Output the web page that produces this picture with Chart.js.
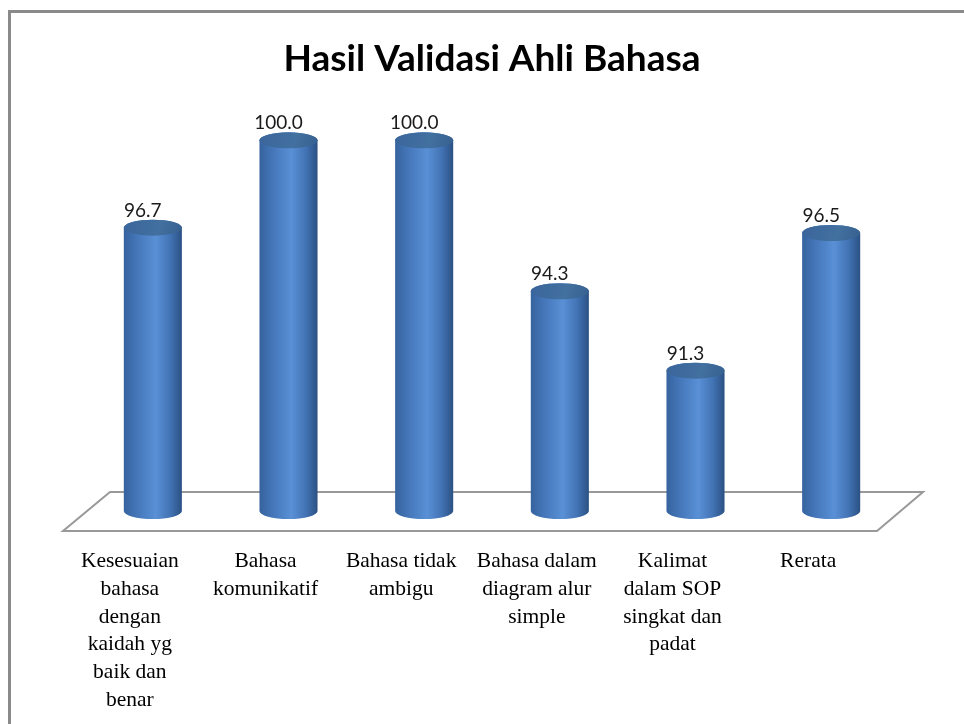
<!DOCTYPE html>
<html>
<head>
<meta charset="utf-8">
<script src="https://cdn.jsdelivr.net/npm/chart.js@4.4.1/dist/chart.umd.min.js"></script>
<style>
  html, body { margin: 0; padding: 0; background: #fff; }
  #wrap { width: 964px; height: 724px; }
</style>
</head>
<body>
<div id="wrap"><canvas id="grafico" width="964" height="724"></canvas></div>
<script>
// Data kategori (label sumbu X, dipecah per baris seperti aslinya)
const kategori = [
    ['Kesesuaian', 'bahasa', 'dengan', 'kaidah yg', 'baik dan', 'benar'],
    ['Bahasa', 'komunikatif'],
    ['Bahasa tidak', 'ambigu'],
    ['Bahasa dalam', 'diagram alur', 'simple'],
    ['Kalimat', 'dalam SOP', 'singkat dan', 'padat'],
    ['Rerata']
];

// Nilai tiap kategori (%)
const nilai = [96.7, 100.0, 100.0, 94.3, 91.3, 96.5];

const judul = 'Hasil Validasi Ahli Bahasa';

// Batas sumbu Y (tidak ditampilkan)
const yMin = 86;
const yMax = 102;

// gambar bingkai luar dan lantai 3D
const latarPlugin = {
    id: 'latar',
    beforeDraw(chart) {
        const ctx = chart.ctx;
        ctx.save();
        ctx.strokeStyle = '#8a8a8a';
        ctx.lineWidth = 3;
        ctx.beginPath();
        ctx.moveTo(9.5, chart.height);
        ctx.lineTo(9.5, 11.5);
        ctx.lineTo(chart.width, 11.5);
        ctx.stroke();
        ctx.restore();
    },
    beforeDatasetsDraw(chart) {
        const ctx = chart.ctx;
        const a = chart.chartArea;
        const base = a.bottom;
        ctx.save();
        ctx.fillStyle = '#ffffff';
        ctx.strokeStyle = '#999999';
        ctx.lineWidth = 2;
        ctx.beginPath();
        ctx.moveTo(a.left + 25, base - 19);
        ctx.lineTo(a.right + 24, base - 19);
        ctx.lineTo(a.right - 22, base + 20);
        ctx.lineTo(a.left - 22, base + 20);
        ctx.closePath();
        ctx.fill();
        ctx.stroke();
        ctx.restore();
    }
};

// gambar batang sebagai silinder
function silinder(ctx, x, top, base, w) {
    const rx = w / 2;
    const ry = 8;
    const g = ctx.createLinearGradient(x - rx, 0, x + rx, 0);
    g.addColorStop(0, '#35639e');
    g.addColorStop(0.25, '#4678bb');
    g.addColorStop(0.55, '#5990d6');
    g.addColorStop(0.8, '#4273b4');
    g.addColorStop(1, '#2b5183');

    ctx.beginPath();
    ctx.moveTo(x - rx, top);
    ctx.lineTo(x - rx, base);
    ctx.ellipse(x, base, rx, ry, 0, Math.PI, 0, true);
    ctx.lineTo(x + rx, top);
    ctx.ellipse(x, top, rx, ry, 0, 0, Math.PI, true);
    ctx.closePath();
    ctx.fillStyle = g;
    ctx.fill();

    // tutup atas
    const gt = ctx.createLinearGradient(x - rx, top - ry, x + rx, top + ry);
    gt.addColorStop(0, '#3a659c');
    gt.addColorStop(0.6, '#42709f');
    gt.addColorStop(1, '#36608f');
    ctx.beginPath();
    ctx.ellipse(x, top, rx, ry, 0, 0, Math.PI * 2);
    ctx.fillStyle = gt;
    ctx.fill();
}

const silinderPlugin = {
    id: 'silinder',
    afterDatasetsDraw(chart) {
        const ctx = chart.ctx;
        const meta = chart.getDatasetMeta(0);
        const dasar = chart.chartArea.bottom;
        ctx.save();
        meta.data.forEach((bar) => {
            silinder(ctx, bar.x, bar.y, Math.min(bar.base, dasar), bar.width);
        });
        // label nilai
        ctx.fillStyle = '#1a1a1a';
        ctx.font = '19px Lato';
        ctx.textAlign = 'center';
        ctx.textBaseline = 'alphabetic';
        meta.data.forEach((bar, i) => {
            ctx.fillText(nilai[i].toFixed(1), bar.x - 10, bar.y - 11);
        });
        ctx.restore();
    }
};

const ctx = document.getElementById('grafico').getContext('2d');
new Chart(ctx, {
    type: 'bar',
    data: {
        labels: kategori,
        datasets: [{
            data: nilai,
            base: yMin,
            backgroundColor: 'rgba(0,0,0,0)',
            borderWidth: 0,
            barPercentage: 0.428,
            categoryPercentage: 1
        }]
    },
    options: {
        responsive: false,
        animation: false,
        layout: {
            padding: { left: 85, right: 65, top: 0, bottom: 0 }
        },
        plugins: {
            legend: { display: false },
            tooltip: { enabled: false },
            title: {
                display: true,
                text: judul,
                color: '#000',
                font: { family: 'Lato', size: 37, weight: 'bold', lineHeight: 1.2 },
                padding: { top: 37, bottom: 6 }
            }
        },
        scales: {
            x: {
                grid: { display: false, drawTicks: false },
                border: { display: false },
                ticks: {
                    color: '#000',
                    font: { family: '"Liberation Serif", "Times New Roman", serif', size: 21.5, lineHeight: 1.3 },
                    padding: 36,
                    labelOffset: -23,
                    maxRotation: 0,
                    autoSkip: false
                },
                afterFit(scale) { scale.height = 213; }
            },
            y: {
                display: false,
                min: yMin,
                max: yMax
            }
        }
    },
    plugins: [latarPlugin, silinderPlugin]
});
</script>
</body>
</html>
